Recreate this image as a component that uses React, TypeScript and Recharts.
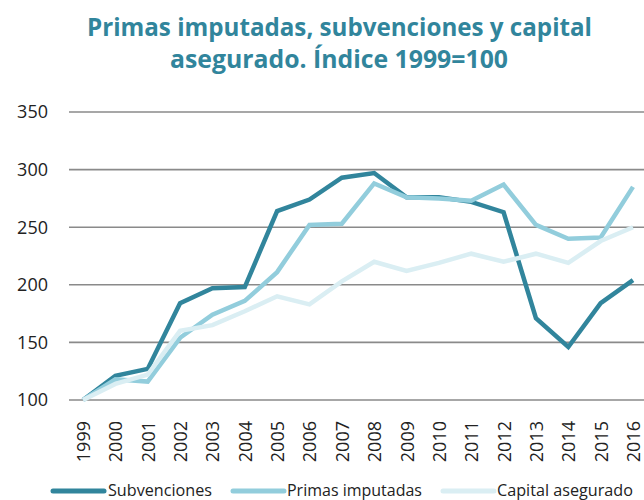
import { LineChart, Line, XAxis, YAxis, CartesianGrid, Legend } from 'recharts'

const years = [
  '1999', '2000', '2001', '2002', '2003', '2004', '2005', '2006', '2007',
  '2008', '2009', '2010', '2011', '2012', '2013', '2014', '2015', '2016',
]
const subvenciones = [100, 121, 127, 184, 197, 198, 264, 274, 293, 297, 276, 276, 272, 263, 171, 146, 184, 204]
const primasImputadas = [100, 118, 116, 154, 174, 186, 211, 252, 253, 288, 276, 275, 273, 287, 252, 240, 241, 285]
const capitalAsegurado = [100, 114, 122, 160, 165, 177, 190, 183, 203, 220, 212, 219, 227, 220, 227, 219, 238, 250]
const yTicks = [100, 150, 200, 250, 300, 350]

const seriesNames = ['Subvenciones', 'Primas imputadas', 'Capital asegurado']
const titleLines = ['Primas imputadas, subvenciones y capital', 'asegurado. Índice 1999=100']

const data = years.map((year, i) => ({
  year,
  subvenciones: subvenciones[i],
  primas: primasImputadas[i],
  capital: capitalAsegurado[i],
}))

const FONT = '"Open Sans", "Noto Sans", sans-serif'
const TEAL = '#31859c'

// legend item placement
const legendSpots = [
  { x: 50, textX: 108, textW: 104 },
  { x: 230, textX: 287, textW: 135 },
  { x: 440, textX: 497, textW: 136 },
]

const YearTick = ({ x, y, payload }: { x?: number; y?: number; payload?: { value: string } }) => (
  <text
    transform={`translate(${x},${(y || 0) + 8}) rotate(-90)`}
    textAnchor="end"
    dominantBaseline="central"
    fontSize={18}
    fontFamily={FONT}
    fill="#222"
  >
    {payload?.value}
  </text>
)

const LegendContent = ({ payload }: { payload?: Array<{ value: string; color: string }> }) => (
  <svg width={644} height={22} style={{ display: 'block' }}>
    {(payload || []).map((item) => {
      const spot = legendSpots[seriesNames.indexOf(item.value)]
      if (!spot) return null
      return (
        <g key={item.value}>
          <line x1={spot.x + 3} x2={spot.x + 54} y1={13} y2={13} stroke={item.color} strokeWidth={5} strokeLinecap="round" />
          <text
            x={spot.textX}
            y={18}
            fontSize={17}
            fontFamily={FONT}
            fill="#222"
            textLength={spot.textW}
            lengthAdjust="spacingAndGlyphs"
          >
            {item.value}
          </text>
        </g>
      )
    })}
  </svg>
)

export default function App() {
  return (
    <div style={{ position: 'absolute', left: 0, top: 0, width: 644, height: 500, background: '#fff', overflow: 'hidden' }}>
      <svg width={644} height={90} style={{ position: 'absolute', left: 0, top: 0 }}>
        <text x={87} y={36} fontSize={25} fontWeight={700} fontFamily={FONT} fill={TEAL} textLength={505} lengthAdjust="spacingAndGlyphs">
          {titleLines[0]}
        </text>
        <text x={170} y={68} fontSize={25} fontWeight={700} fontFamily={FONT} fill={TEAL} textLength={338} lengthAdjust="spacingAndGlyphs">
          {titleLines[1]}
        </text>
      </svg>
      <LineChart width={644} height={500} data={data} margin={{ top: 112, right: 0, left: 0, bottom: 0 }}>
        <CartesianGrid vertical={false} stroke="#8a8a8a" strokeWidth={1.6} />
        <XAxis
          dataKey="year"
          interval={0}
          padding={{ left: 14, right: 11 }}
          axisLine={false}
          tickLine={false}
          tickMargin={7}
          height={78}
          tick={<YearTick />}
        />
        <YAxis
          domain={[100, 350]}
          ticks={yTicks}
          width={69}
          axisLine={false}
          tickLine={false}
          tickMargin={15}
          tick={{ fontSize: 18, fontFamily: FONT, fill: '#222' }}
        />
        <Legend verticalAlign="bottom" height={22} content={<LegendContent />} />
        <Line type="linear" dataKey="subvenciones" name={seriesNames[0]} stroke={TEAL} strokeWidth={4.5} dot={false} isAnimationActive={false} />
        <Line type="linear" dataKey="primas" name={seriesNames[1]} stroke="#92cddc" strokeWidth={4.5} dot={false} isAnimationActive={false} />
        <Line type="linear" dataKey="capital" name={seriesNames[2]} stroke="#daeef3" strokeWidth={4.5} dot={false} isAnimationActive={false} />
      </LineChart>
    </div>
  )
}
